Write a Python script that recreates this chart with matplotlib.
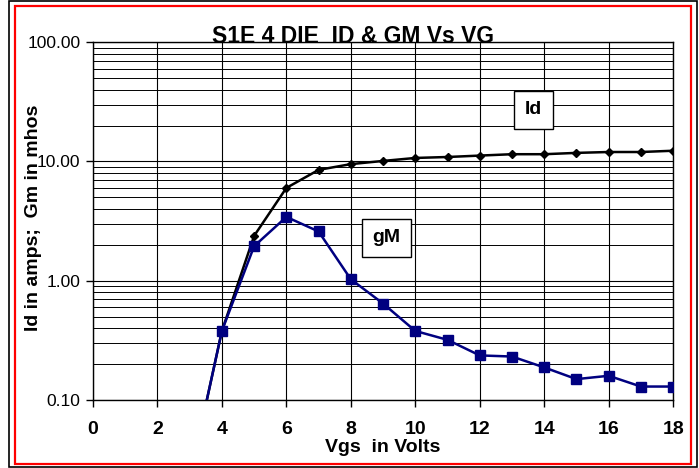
import matplotlib
matplotlib.use('Agg')
import matplotlib.pyplot as plt
from matplotlib.patches import Rectangle
from matplotlib.ticker import FixedLocator, LogLocator, NullFormatter

plt.rcParams['font.family'] = ['Liberation Sans', 'DejaVu Sans']

# Data
vgs = [3, 4, 5, 6, 7, 8, 9, 10, 11, 12, 13, 14, 15, 16, 17, 18]
id_amps = [0.022, 0.38, 2.38, 6.0, 8.5, 9.5, 10.1, 10.7, 10.9, 11.2,
           11.5, 11.5, 11.8, 12.0, 12.0, 12.3]
gm_mhos = [0.022, 0.38, 1.95, 3.43, 2.59, 1.03, 0.645, 0.38, 0.32, 0.237,
           0.232, 0.188, 0.150, 0.160, 0.130, 0.130]

x_ticks = [0, 2, 4, 6, 8, 10, 12, 14, 16, 18]
y_ticks = [0.1, 1, 10, 100]
y_labels = ['0.10', '1.00', '10.00', '100.00']

fig = plt.figure(figsize=(6.99, 4.68), dpi=100)
ax = fig.add_axes([0.133, 0.145, 0.830, 0.765])

# Figure borders: black outer, red inner
fig.patches.append(Rectangle((0.013, 0.002), 0.984, 0.996, transform=fig.transFigure,
                             fill=False, edgecolor='black', linewidth=1.2))
fig.patches.append(Rectangle((0.022, 0.008), 0.966, 0.979, transform=fig.transFigure,
                             fill=False, edgecolor='red', linewidth=1.6))

ax.plot(vgs, id_amps, color='black', marker='D', markersize=4.5, linewidth=1.8,
        clip_on=True, zorder=3)
ax.plot(vgs, gm_mhos, color='#000080', marker='s', markersize=6.5, linewidth=1.8,
        clip_on=True, zorder=4)

ax.set_yscale('log')
ax.set_xlim(0, 18)
ax.set_ylim(0.1, 100)

ax.xaxis.set_major_locator(FixedLocator(x_ticks))
ax.set_xticklabels([str(v) for v in x_ticks], fontsize=14, fontweight='bold')
ax.yaxis.set_major_locator(FixedLocator(y_ticks))
ax.set_yticklabels(y_labels, fontsize=12.5)
ax.yaxis.set_minor_locator(LogLocator(base=10, subs=range(2, 10)))
ax.yaxis.set_minor_formatter(NullFormatter())

ax.tick_params(axis='both', which='major', direction='out', length=5, width=1, pad=4)
ax.tick_params(axis='x', pad=10)
ax.tick_params(axis='y', which='minor', length=0)

ax.grid(True, which='major', axis='both', color='black', linewidth=0.8)
ax.grid(True, which='minor', axis='y', color='black', linewidth=0.7)
ax.set_axisbelow(True)
for s in ax.spines.values():
    s.set_linewidth(1.0)

ax.set_xlabel('Vgs  in Volts', fontsize=14, fontweight='bold')
ax.xaxis.set_label_coords(0.5, -0.108)
ax.set_ylabel('Id in amps;  Gm in mhos', fontsize=14, fontweight='bold')
ax.yaxis.set_label_coords(-0.088, 0.508)
fig.text(0.505, 0.897, 'S1E 4 DIE  ID & GM Vs VG', ha='center', va='bottom',
         fontsize=16.5, fontweight='bold')

box = dict(boxstyle='square,pad=0.55', facecolor='white', edgecolor='black', linewidth=1)
ax.text(13.66, 27, 'Id', ha='center', va='center', fontsize=14, fontweight='bold', bbox=box)
ax.text(9.1, 2.29, 'gM', ha='center', va='center', fontsize=14, fontweight='bold', bbox=box)

fig.savefig('out.png', dpi=100)
